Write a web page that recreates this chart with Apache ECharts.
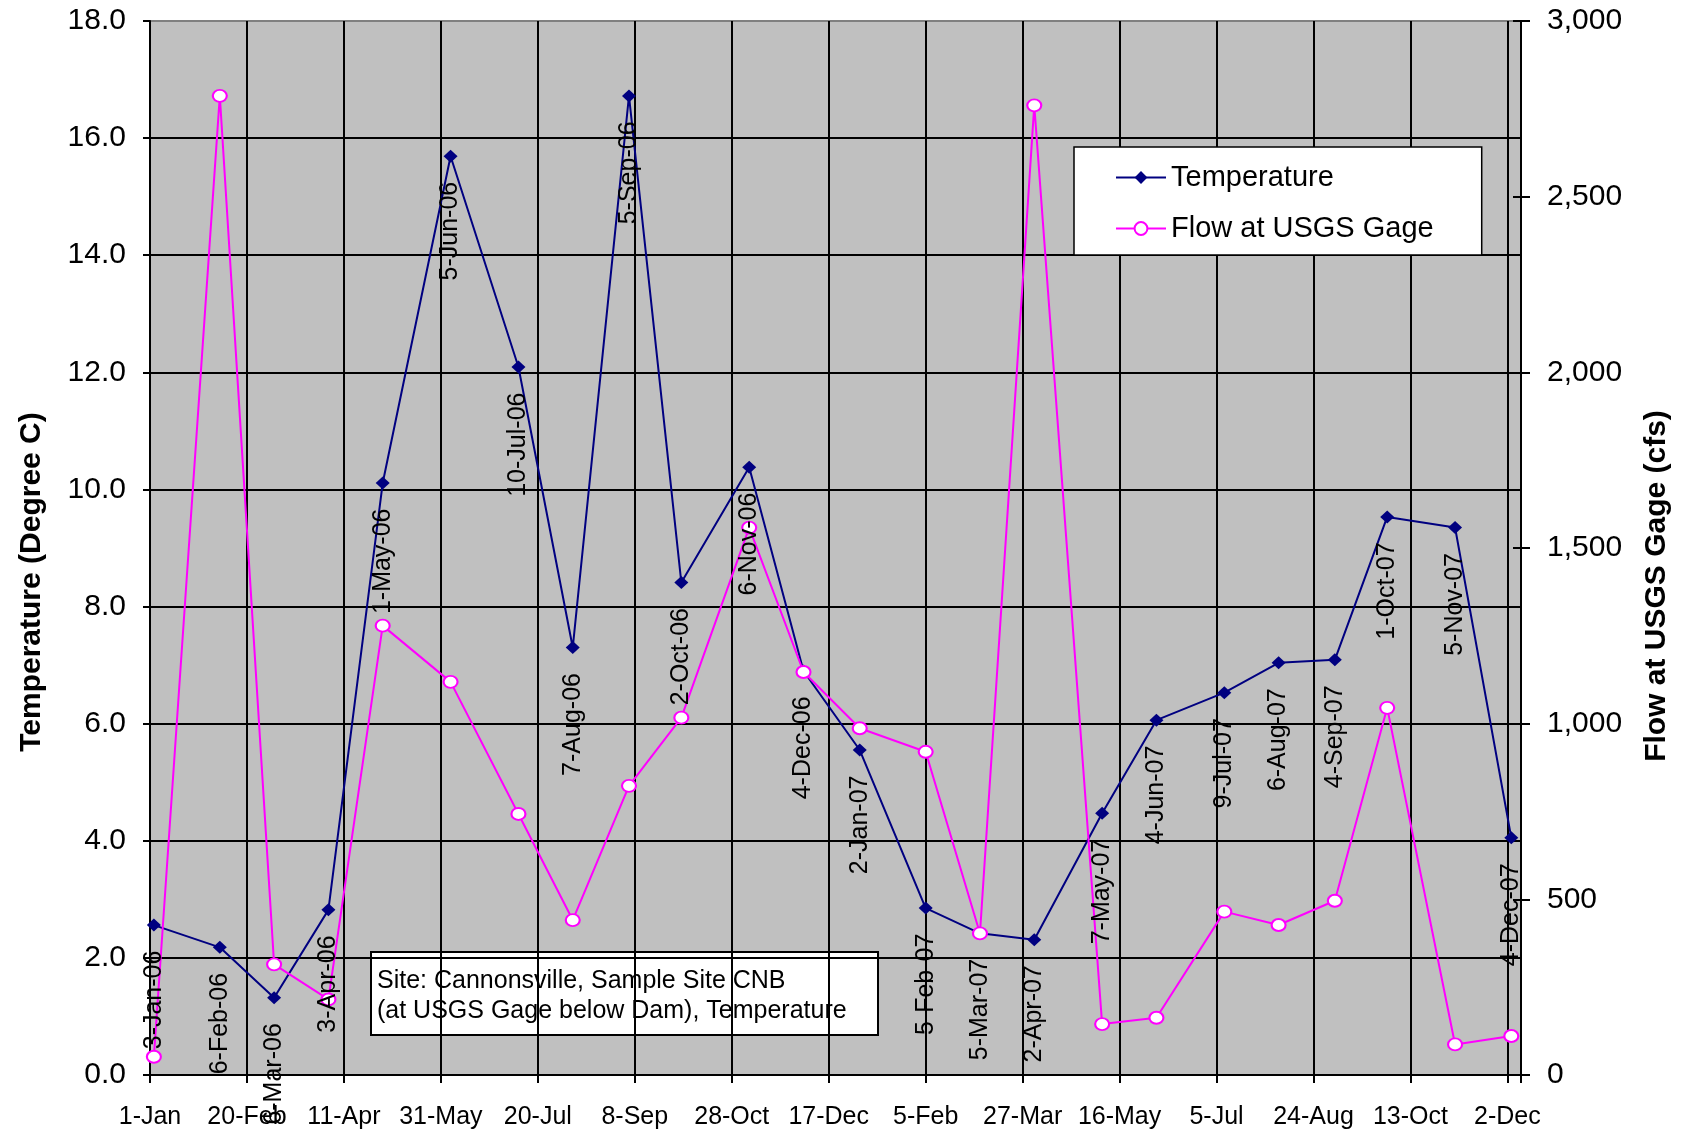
<!DOCTYPE html>
<html>
<head>
<meta charset="utf-8">
<title>Cannonsville CNB – Temperature and Flow</title>
<script src="https://cdn.jsdelivr.net/npm/echarts@6/dist/echarts.min.js"></script>
<style>
  html, body { margin: 0; padding: 0; background: #ffffff; }
  #chart { width: 1686px; height: 1134px; }
</style>
</head>
<body>
<div id="chart"></div>
<script>
// Sampling dates at site CNB (below Cannonsville Dam)
const sampleDates = [
  '2006-01-03', '2006-02-06', '2006-03-06', '2006-04-03', '2006-05-01', '2006-06-05',
  '2006-07-10', '2006-08-07', '2006-09-05', '2006-10-02', '2006-11-06', '2006-12-04',
  '2007-01-02', '2007-02-05', '2007-03-05', '2007-04-02', '2007-05-07', '2007-06-04',
  '2007-07-09', '2007-08-06', '2007-09-04', '2007-10-01', '2007-11-05', '2007-12-04'
];

// Water temperature, degrees C
const temperature = [
  2.56, 2.18, 1.32, 2.82, 10.11, 15.69,
  12.09, 7.30, 16.72, 8.41, 10.38, 6.90,
  5.55, 2.85, 2.42, 2.31, 4.47, 6.06,
  6.53, 7.04, 7.09, 9.53, 9.35, 4.05
];

// Flow at the USGS gage, cfs
const flowCfs = [
  52, 2787, 315, 215, 1279, 1119,
  743, 441, 823, 1017, 1558, 1147,
  987, 920, 403, 2760, 145, 163,
  465, 427, 496, 1045, 87, 111
];

// Date axis: days counted from 1-Jan-2006, one tick every 50 days
const axisOrigin = '2006-01-01';
const xTickLabels = [
  '1-Jan', '20-Feb', '11-Apr', '31-May', '20-Jul', '8-Sep', '28-Oct', '17-Dec',
  '5-Feb', '27-Mar', '16-May', '5-Jul', '24-Aug', '13-Oct', '2-Dec'
];

const seriesNames = ['Temperature', 'Flow at USGS Gage'];
const siteNote = [
  'Site: Cannonsville, Sample Site CNB',
  '(at USGS Gage below Dam), Temperature'
];

const FONT = '"Liberation Sans", Arial, Helvetica, sans-serif';
const MONTHS = ['Jan','Feb','Mar','Apr','May','Jun','Jul','Aug','Sep','Oct','Nov','Dec'];
const DAY_MS = 86400000;
const originMs = Date.parse(axisOrigin + 'T00:00:00Z');
const dayOf = s => Math.round((Date.parse(s + 'T00:00:00Z') - originMs) / DAY_MS);
const shortDate = s => {
  const [y, m, d] = s.split('-').map(Number);
  return d + '-' + MONTHS[m - 1] + '-' + String(y).slice(2);
};

const tempData = sampleDates.map((s, i) => [dayOf(s), temperature[i]]);
const flowData = sampleDates.map((s, i) => [dayOf(s), flowCfs[i]]);
const dateLabels = sampleDates.map(shortDate);

const black = '#000000';
const chart = echarts.init(document.getElementById('chart'), null, { renderer: 'canvas' });

chart.setOption({
  animation: false,
  textStyle: { fontFamily: FONT },
  grid: {
    left: 150, top: 21, right: 165, bottom: 59,
    show: true, backgroundColor: '#C0C0C0', borderColor: '#808080', borderWidth: 2
  },
  xAxis: {
    type: 'value', min: 0, max: 707, interval: 50,
    axisLine: { show: true, onZero: false, lineStyle: { color: black, width: 2 } },
    axisTick: { show: true, length: 8, lineStyle: { color: black, width: 2 } },
    axisLabel: {
      fontSize: 25, color: black, margin: 30, fontFamily: FONT,
      formatter: v => (v % 50 === 0 ? xTickLabels[v / 50] : '')
    },
    splitLine: { show: true, lineStyle: { color: black, width: 2 } }
  },
  yAxis: [
    {
      type: 'value', min: 0, max: 18, interval: 2, position: 'left',
      name: 'Temperature (Degree C)', nameLocation: 'middle', nameRotate: 90, nameGap: 103,
      nameTextStyle: { fontSize: 30, fontWeight: 'bold', color: black, fontFamily: FONT, padding: [0, 68, 0, 0] },
      axisLine: { show: true, lineStyle: { color: black, width: 2 } },
      axisTick: { show: true, length: 7, lineStyle: { color: black, width: 2 } },
      axisLabel: { fontSize: 30, color: black, margin: 24, fontFamily: FONT, formatter: v => v.toFixed(1) },
      splitLine: { show: true, showMaxLine: false, lineStyle: { color: black, width: 2 } }
    },
    {
      type: 'value', min: 0, max: 3000, interval: 500, position: 'right',
      name: 'Flow at USGS Gage (cfs)', nameLocation: 'middle', nameRotate: 90, nameGap: 121,
      nameTextStyle: { fontSize: 30, fontWeight: 'bold', color: black, fontFamily: FONT, padding: [0, 76, 0, 0] },
      axisLine: { show: true, lineStyle: { color: black, width: 2 } },
      axisTick: { show: true, length: 9, lineStyle: { color: black, width: 2 } },
      axisLabel: { fontSize: 30, color: black, margin: 26, fontFamily: FONT, formatter: v => v.toLocaleString('en-US') },
      splitLine: { show: false }
    },
    {
      // inner half of the cross tick marks on the flow axis
      type: 'value', min: 0, max: 3000, interval: 500, position: 'right',
      axisLine: { show: false },
      axisTick: { show: true, inside: true, length: 8, lineStyle: { color: black, width: 2 } },
      axisLabel: { show: false },
      splitLine: { show: false }
    }
  ],
  legend: {
    left: 1074, top: 147, orient: 'vertical',
    backgroundColor: '#ffffff', borderColor: black, borderWidth: 1.5,
    padding: [16, 48, 12, 41], itemGap: 22, itemWidth: 50, itemHeight: 16,
    textStyle: { fontSize: 29, color: black, fontFamily: FONT },
    data: seriesNames
  },
  graphic: [{
    type: 'group', left: 370, top: 951,
    children: [
      { type: 'rect', shape: { x: 0, y: 0, width: 507, height: 83 },
        style: { fill: '#ffffff', stroke: black, lineWidth: 2 } },
      { type: 'text', x: 6, y: 14,
        style: { text: siteNote.join('\n'), font: '25px ' + FONT, fill: black, lineHeight: 30 } }
    ]
  }],
  series: [
    {
      name: seriesNames[0], type: 'line', yAxisIndex: 0, data: tempData,
      symbol: 'diamond', symbolSize: [14, 13],
      color: '#000080',
      lineStyle: { color: '#000080', width: 2 },
      itemStyle: { color: '#000080' },
      label: {
        show: true, position: 'bottom', distance: 19, rotate: 90,
        align: 'right', verticalAlign: 'middle',
        fontSize: 25, color: black, fontFamily: FONT,
        formatter: p => dateLabels[p.dataIndex]
      },
      emphasis: { disabled: true }
    },
    {
      name: seriesNames[1], type: 'line', yAxisIndex: 1, data: flowData,
      symbol: 'emptyCircle', symbolSize: [14, 12],
      color: '#FF00FF',
      lineStyle: { color: '#FF00FF', width: 2 },
      itemStyle: { color: '#FF00FF', borderColor: '#FF00FF', borderWidth: 2 },
      emphasis: { disabled: true }
    }
  ]
});
</script>
</body>
</html>
